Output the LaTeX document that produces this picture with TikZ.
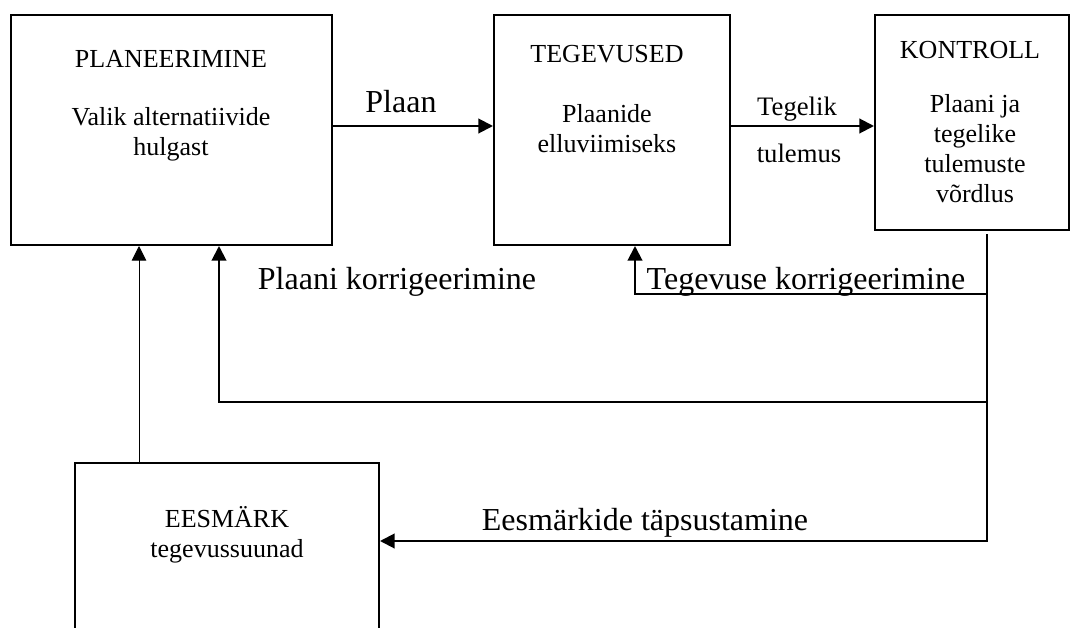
\documentclass[tikz,border=0pt]{standalone}
\usepackage{fontspec}
\setmainfont{Liberation Serif}
\usetikzlibrary{arrows.meta,calc}
\begin{document}
\begin{tikzpicture}[x=0.75pt,y=-0.75pt,
  box/.style={draw,rectangle,line width=1.5pt,inner sep=0pt},
  conn/.style={line width=1.5pt,line join=miter,-{Triangle[length=11pt,width=11pt]}},
  thinconn/.style={line width=0.75pt,-{Triangle[length=11pt,width=11pt]}},
  boxtext/.style={inner sep=0pt,anchor=base,align=center,font=\fontsize{19.5}{22.5}\selectfont},
  midtext/.style={inner sep=0pt,anchor=base,font=\fontsize{20}{24}\selectfont},
  bigtext/.style={inner sep=0pt,anchor=base,font=\fontsize{24}{28}\selectfont}]
\useasboundingbox (0,0) rectangle (1072,628);
\clip (0,0) rectangle (1072,628);

% the four blocks
\node[box,minimum width=240.75pt,minimum height=172.5pt] (plan) at (171.5,130) {};
\node[box,minimum width=177pt,minimum height=172.5pt] (teg) at (612,130) {};
\node[box,minimum width=145.5pt,minimum height=161.25pt] (kon) at (972,122.5) {};
\node[box,minimum width=228pt,minimum height=150pt] (ees) at (227,563) {};

% block texts (base anchor = baseline of the last line)
\node[boxtext] (planT) at (171,67) {PLANEERIMINE};
\node[boxtext] (planS) at (171,155) {Valik alternatiivide\\hulgast};
\node[boxtext] (tegT) at (607,62) {TEGEVUSED};
\node[boxtext] (tegS) at (607,152) {Plaanide\\elluviimiseks};
\node[boxtext] (konT) at (970,58) {KONTROLL};
\node[boxtext] (konS) at (975,202) {Plaani ja\\tegelike\\tulemuste\\võrdlus};
\node[boxtext] (eesT) at (227,557) {EESMÄRK\\tegevussuunad};

% levels and columns of the feedback lines
\coordinate (rowA) at (0,126);
\coordinate (rowT) at (0,294);
\coordinate (rowP) at (0,402);
\coordinate (rowE) at (0,541);
\coordinate (trunk) at (987,0);
\coordinate (colT) at (635,0);
\coordinate (colP) at (219,0);
\coordinate (colE) at (139,0);

% forward flow
\draw[conn] (plan.east |- rowA) -- (teg.west |- rowA);
\draw[conn] (teg.east |- rowA) -- (kon.west |- rowA);
\node[bigtext] (lPlaan) at (401,112) {Plaan};
\node[midtext] (lTeg1) at (797,115) {Tegelik};
\node[midtext] (lTeg2) at (799,162) {tulemus};

% feedback from the control block
\draw[conn] ($(trunk |- kon.south)+(0,3)$) -- (trunk |- rowE) -- (ees.east |- rowE);
\draw[conn] (trunk |- rowT) -- (colT |- rowT) -- (colT |- teg.south);
\draw[conn] (trunk |- rowP) -- (colP |- rowP) -- (colP |- plan.south);
\draw[thinconn] (colE |- ees.north) -- (colE |- plan.south);

\node[bigtext] (lPK) at (397,289) {Plaani korrigeerimine};
\node[bigtext] (lTK) at (806,289) {Tegevuse korrigeerimine};
\node[bigtext] (lET) at (645,530) {Eesmärkide täpsustamine};
\end{tikzpicture}
\end{document}
